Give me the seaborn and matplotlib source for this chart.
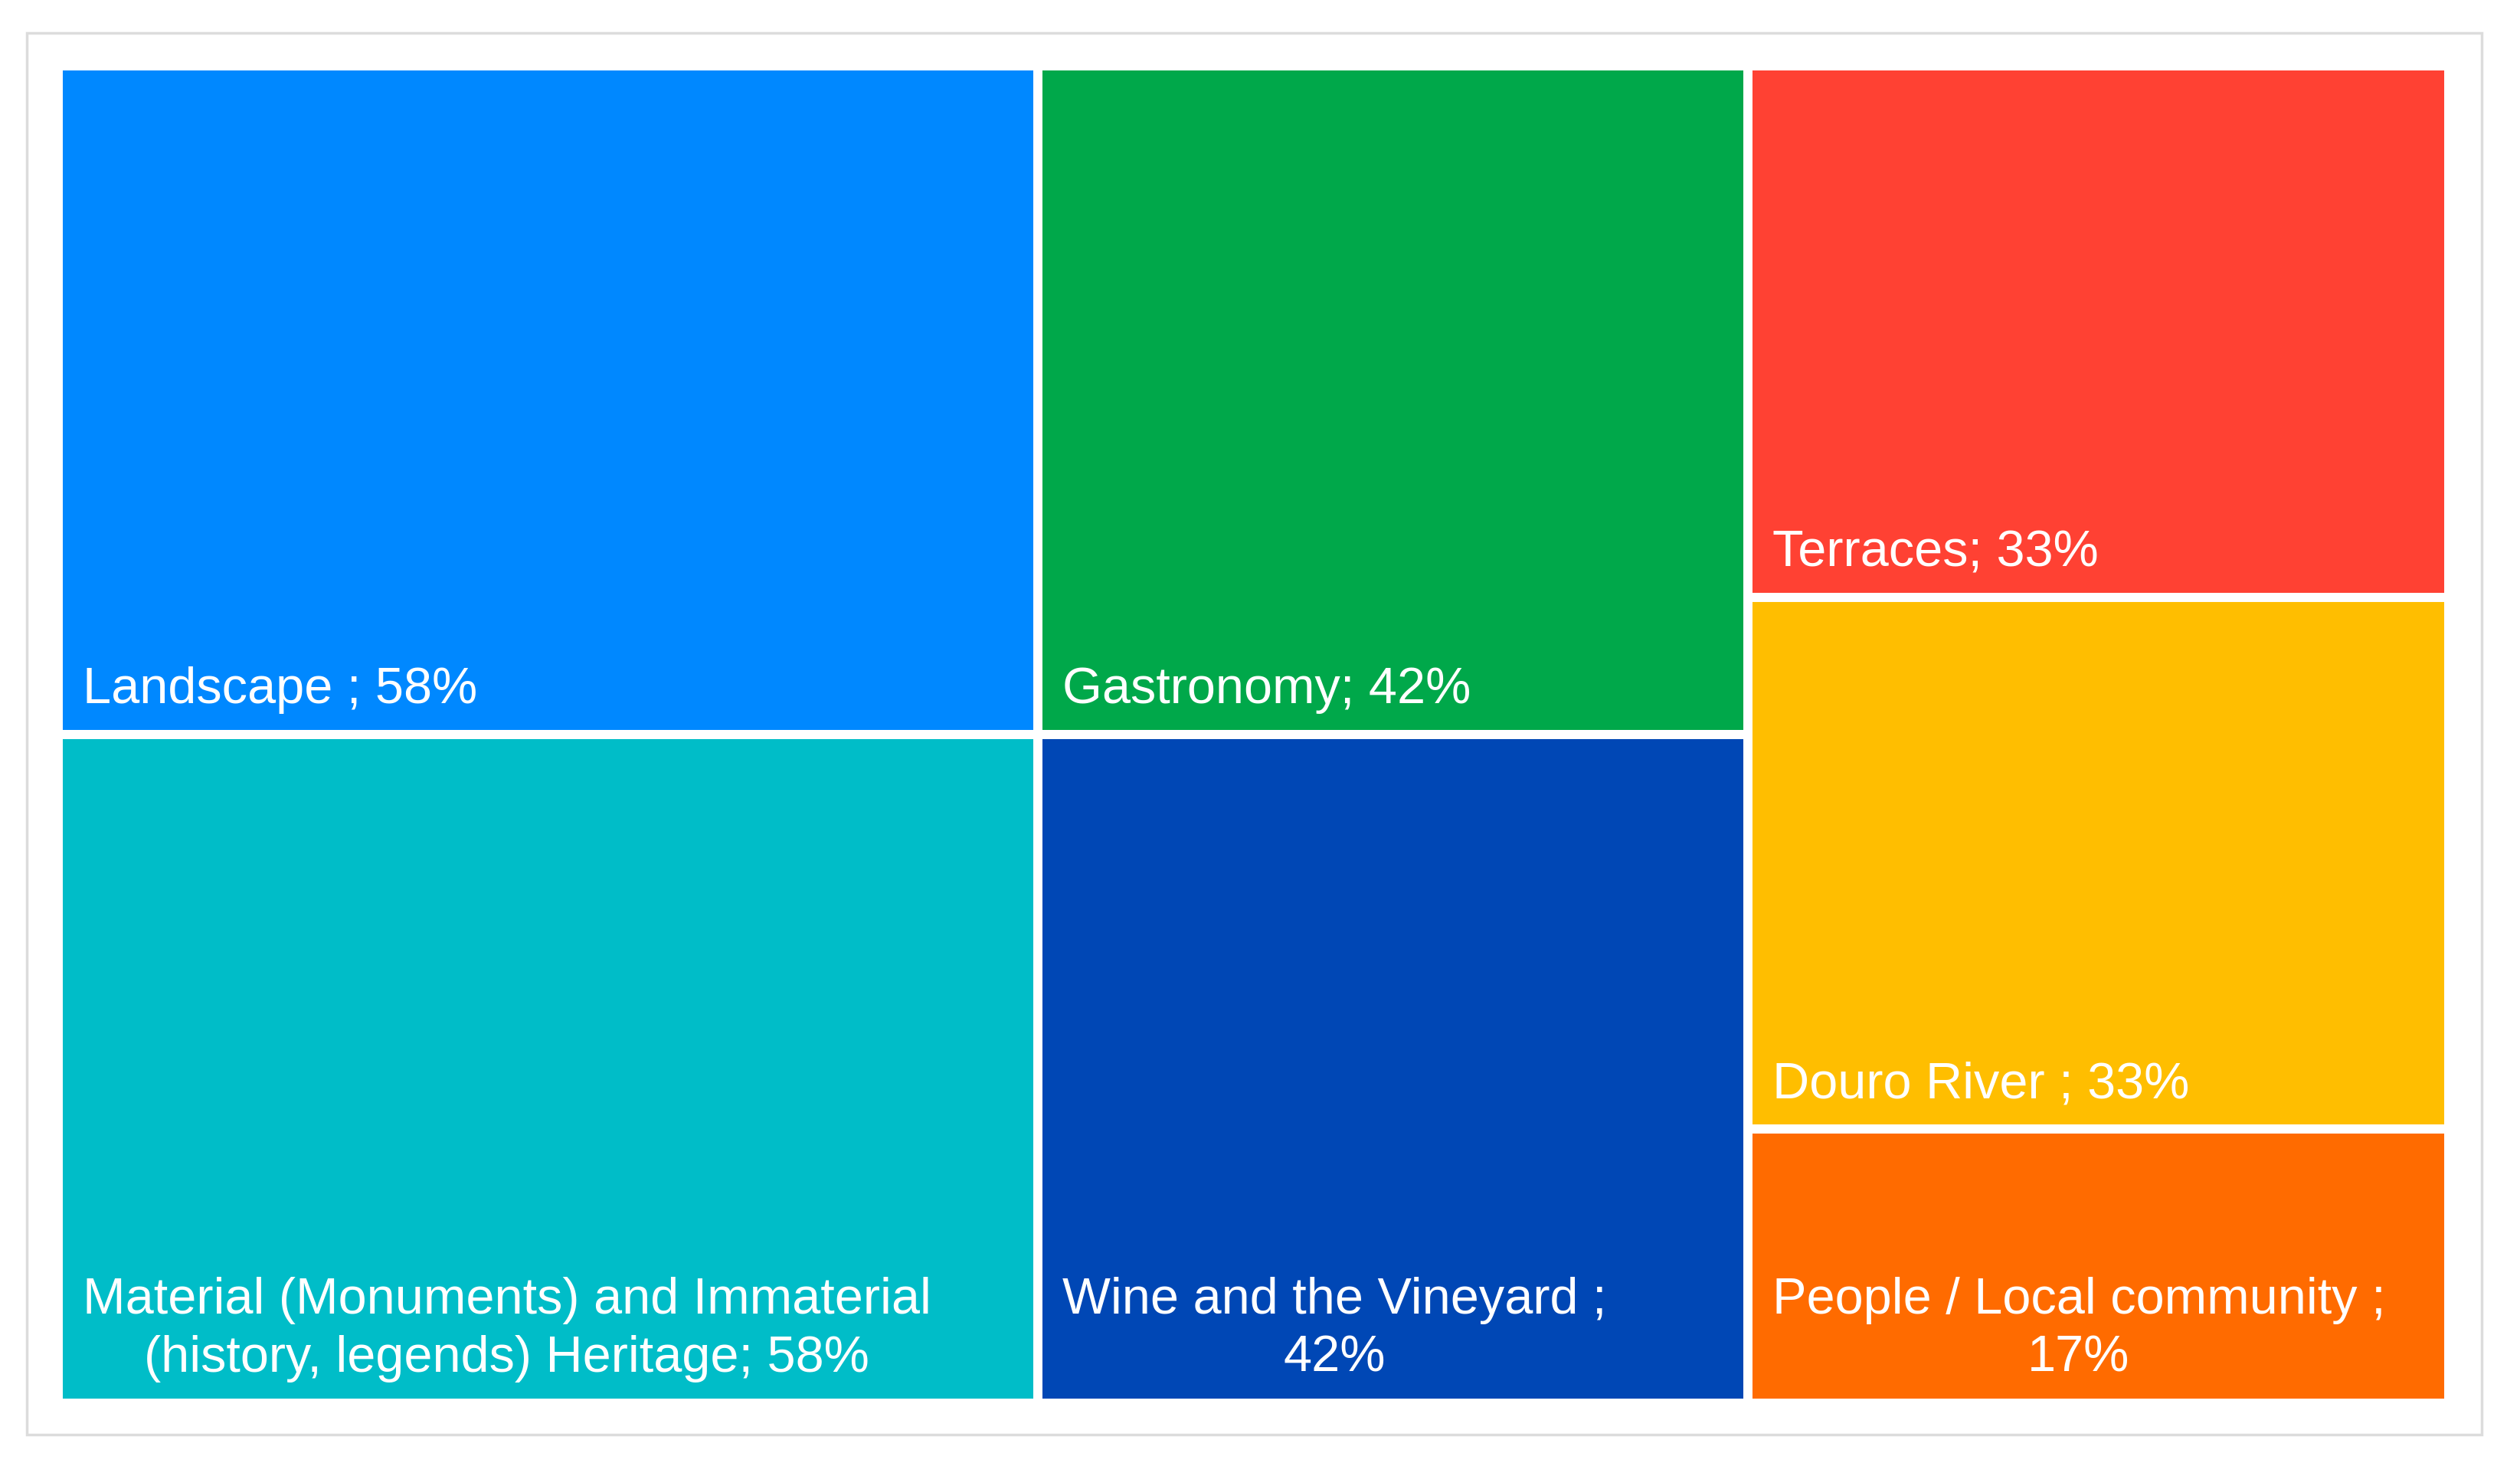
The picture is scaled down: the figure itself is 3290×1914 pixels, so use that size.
import pandas as pd
import numpy as np
import matplotlib.pyplot as plt
import matplotlib.patches as mpatches
import seaborn as sns

# data (treemap: column groups, values in %)
labels = [
    "Landscape ; 58%",
    "Material (Monuments) and Immaterial\n(history, legends) Heritage; 58%",
    "Gastronomy; 42%",
    "Wine and the Vineyard ;\n42%",
    "Terraces; 33%",
    "Douro River ; 33%",
    "People / Local community ;\n17%",
]
values = [58, 58, 42, 42, 33, 33, 17]
columns = [0, 0, 1, 1, 2, 2, 2]
colors = ["#0088FF", "#00BDC8", "#00A84A", "#0047B5", "#FF4133", "#FFBE00", "#FF6B00"]

df = pd.DataFrame({"label": labels, "value": values, "col": columns, "color": colors})

sns.set_theme(style="white")
plt.rcParams["font.family"] = ["Liberation Sans", "DejaVu Sans"]

W, H = 3290, 1914
fig = plt.figure(figsize=(W / 100, H / 100), dpi=100)

# outer light frame
fig.add_artist(mpatches.Rectangle((35 / W, (H - 1873) / H), (3240 - 35) / W, (1873 - 43) / H,
                                  transform=fig.transFigure, fill=False,
                                  edgecolor="#dcdcdc", lw=2.5))

ax = fig.add_axes([76 / W, 82 / H, 3121 / W, 1746 / H])

# layout: column width ~ column total, row height ~ share inside column
total = df["value"].sum()
col_tot = df.groupby("col")["value"].sum()
x0 = 0.0
for c, ctot in col_tot.items():
    sub = df[df["col"] == c]
    y0 = 0.0
    for _, r in sub.iterrows():
        h = r["value"] / ctot * 100
        ax.add_patch(mpatches.Rectangle((x0, y0), ctot, h, facecolor=r["color"],
                                        edgecolor="white", lw=8.6))
        ax.annotate(r["label"], xy=(x0, y0 + h), xytext=(23, 19.5),
                    textcoords="offset points", ha="left", va="bottom",
                    multialignment="center", color="white", fontsize=48,
                    linespacing=1.3)
        y0 += h
    x0 += ctot

ax.set_xlim(0, total)
ax.set_ylim(100, 0)
ax.axis("off")

plt.savefig("out.png", dpi=100)
